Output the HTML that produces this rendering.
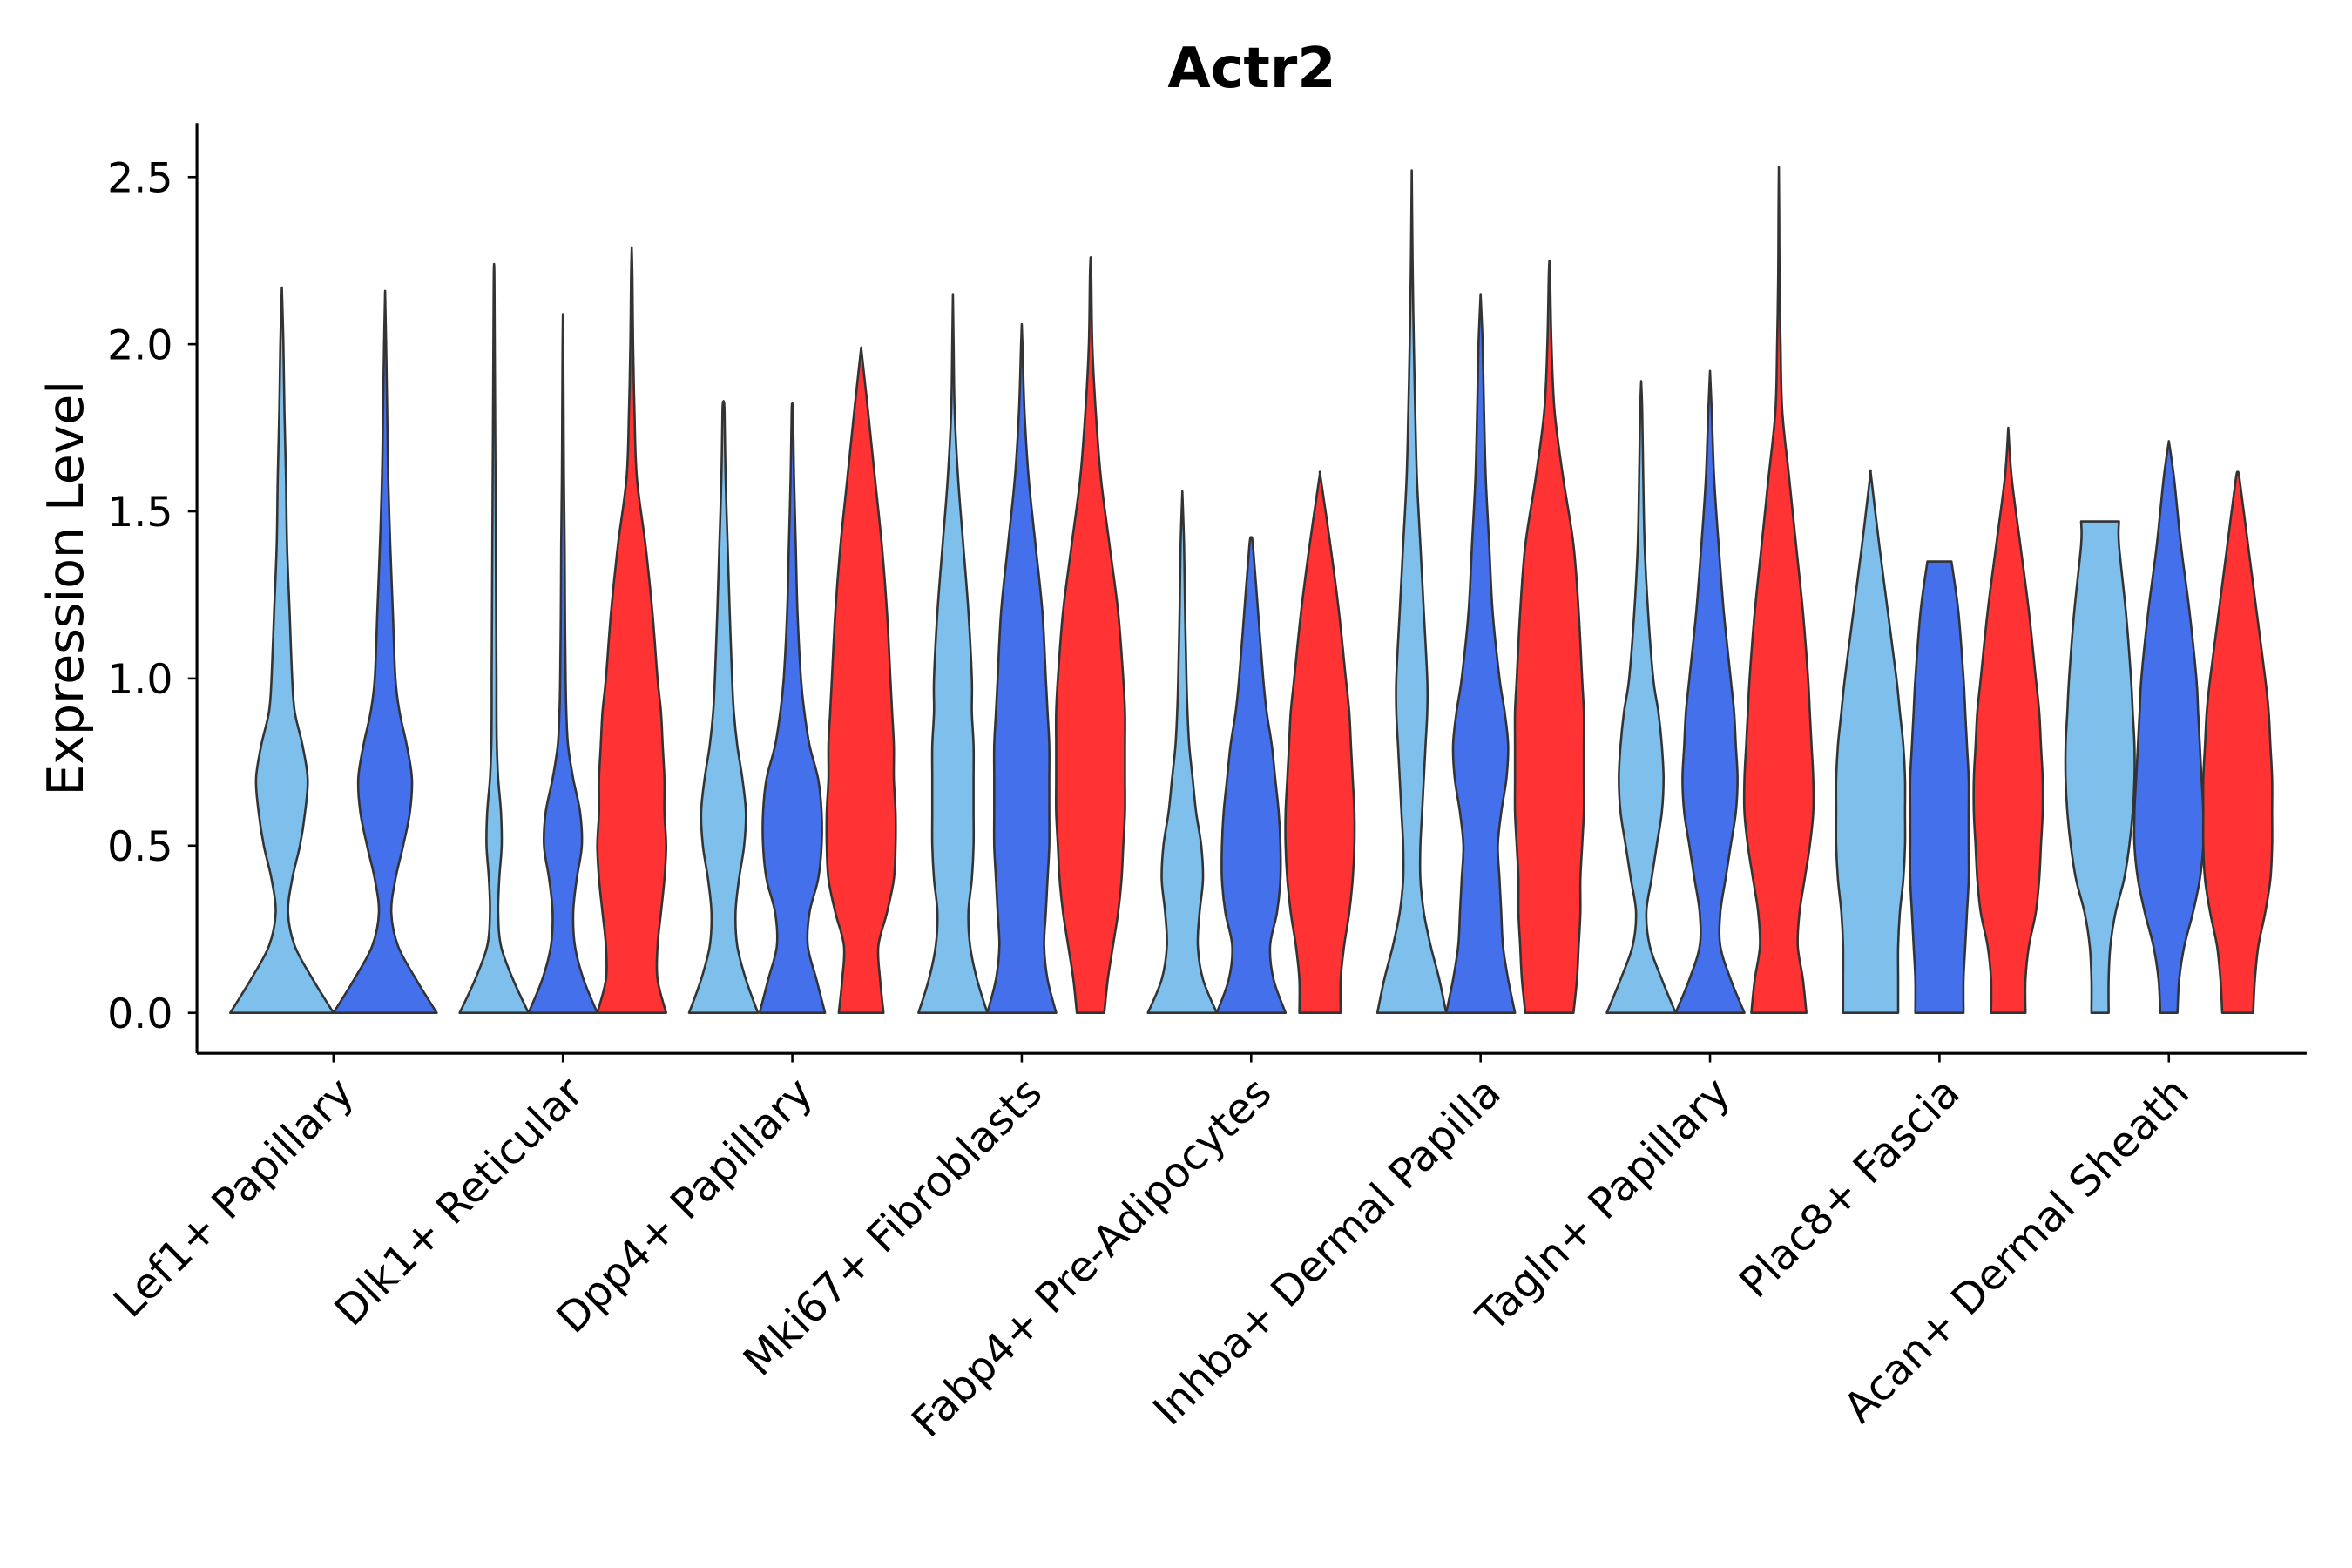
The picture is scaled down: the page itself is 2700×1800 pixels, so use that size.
<!DOCTYPE html>
<html><head><meta charset="utf-8"><style>html,body{margin:0;padding:0;background:#fff}svg{display:block}</style></head>
<body>
<svg id="chart" width="2700" height="1800" viewBox="0 0 1567 1045" xmlns="http://www.w3.org/2000/svg" font-family="'DejaVu Sans', 'Liberation Sans', sans-serif">
<text x="834" y="58" text-anchor="middle" font-size="37" font-weight="bold">Actr2</text>
<g id="plot"></g>
</svg>
<script>
const categories = ["Lef1+ Papillary","Dlk1+ Reticular","Dpp4+ Papillary","Mki67+ Fibroblasts","Fabp4+ Pre-Adipocytes","Inhba+ Dermal Papilla","Tagln+ Papillary","Plac8+ Fascia","Acan+ Dermal Sheath"];
const yTicks = [0.0,0.5,1.0,1.5,2.0,2.5];
const levels = [0,0.1,0.2,0.3,0.4,0.5,0.6,0.7,0.8,0.9,1.0,1.2,1.4,1.6,1.8,2.0,2.2,2.4];
const groupSeries = [["light","dark"],["light","dark","red"],["light","dark","red"],["light","dark","red"],["light","dark","red"],["light","dark","red"],["light","dark","red"],["light","dark","red"],["light","dark","red"]];
const maxValues = [[2.17,2.16],[2.24,2.09,2.29],[1.83,1.82,1.99],[2.15,2.06,2.26],[1.56,1.42,1.61],[2.52,2.15,2.25],[1.89,1.92,2.53],[1.62,1.35,1.75],[1.47,1.71,1.61]];
const topWidths = [[0,0],[0,0,0],[0,0,0],[0,0,0],[0,0,0],[0,0,0],[0,0,0],[0,0.35,0],[0.55,0,0]];
const densities = [
 [[1,.6,.25,.12,.2,.35,.45,.5,.4,.25,.2,.15,.1,.08,.05,.03,.01,0],
  [1,.6,.25,.12,.2,.35,.48,.52,.42,.28,.2,.15,.1,.06,.04,.02,0,0]],
 [[1,.55,.2,.12,.15,.22,.2,.12,.08,.07,.07,.06,.05,.04,.03,.02,.01,0],
  [1,.6,.35,.3,.4,.55,.5,.3,.15,.1,.08,.06,.05,.03,.02,.01,0,0],
  [1,.75,.75,.85,.95,1,.95,.95,.9,.85,.75,.6,.4,.15,.08,.04,.02,0]],
 [[1,.65,.4,.35,.45,.6,.65,.55,.4,.3,.25,.18,.12,.06,.03,0],
  [.95,.7,.45,.5,.75,.85,.85,.75,.5,.35,.25,.15,.1,.05,.02,0],
  [.65,.55,.5,.75,.95,1,1,.95,.95,.9,.85,.75,.6,.4,.2,.05,0]],
 [[1,.7,.5,.45,.55,.6,.6,.6,.6,.55,.55,.45,.3,.15,.05,.02,0],
  [1,.75,.65,.7,.75,.8,.8,.8,.8,.75,.7,.6,.4,.2,.08,.02,0],
  [.4,.5,.65,.8,.9,.95,1,1,1,1,.95,.8,.55,.3,.15,.05,.02,0]],
 [[1,.6,.45,.5,.6,.55,.4,.3,.2,.15,.12,.08,.05,0],
  [1,.65,.55,.75,.85,.85,.8,.7,.6,.45,.35,.2,.05,0],
  [.6,.6,.7,.85,.95,1,1,.95,.9,.85,.75,.55,.3,.02]],
 [[1,.8,.55,.35,.25,.25,.3,.35,.4,.45,.45,.35,.25,.15,.1,.06,.03,.01],
  [1,.8,.65,.6,.55,.5,.6,.75,.8,.7,.55,.35,.25,.15,.1,.06,.02,0],
  [.7,.8,.85,.9,.9,.95,1,1,1,1,.95,.85,.7,.4,.15,.06,.02,0]],
 [[1,.6,.25,.15,.3,.45,.6,.65,.6,.5,.35,.2,.1,.06,.03,0],
  [1,.6,.3,.3,.45,.6,.75,.8,.75,.7,.6,.4,.25,.12,.05,.01,0],
  [.8,.7,.55,.6,.75,.9,1,1,.95,.9,.85,.7,.5,.3,.1,.05,.02,.01]],
 [[.8,.8,.8,.85,.95,1,1,1,.95,.85,.75,.5,.25,.02],
  [.7,.7,.75,.8,.85,.85,.85,.85,.8,.75,.7,.55,.35],
  [.5,.5,.6,.8,.9,.95,1,1,.95,.9,.8,.6,.35,.1,.02]],
 [[.25,.25,.3,.45,.7,.85,.95,1,1,.95,.9,.75,.55],
  [.25,.3,.45,.7,.9,1,1,.95,.9,.85,.8,.6,.35,.15,.03],
  [.45,.5,.6,.8,.95,1,1,1,.95,.9,.8,.55,.3,.05]]
];
const colors = {light:"#7FBFEC", dark:"#4470EC", red:"#FF3333"};

const NS = "http://www.w3.org/2000/svg";
const plot = document.getElementById("plot");
const X0 = 131, X1 = 1537, Y0 = 702, YTOP = 82;
const xCenter = i => 222 + i * 152.9;
const yScale = v => 675 - v * 222.8;
const bandW = 152.9 * 0.9;

function mk(tag, attrs){const e=document.createElementNS(NS,tag);for(const k in attrs)e.setAttribute(k,attrs[k]);plot.appendChild(e);return e;}
function smooth(p){
  let s="";
  for(let i=0;i<p.length-1;i++){
    const p0=p[Math.max(0,i-1)],p1=p[i],p2=p[i+1],p3=p[Math.min(p.length-1,i+2)];
    const c1=[p1[0]+(p2[0]-p0[0])/6,p1[1]+(p2[1]-p0[1])/6];
    const c2=[p2[0]-(p3[0]-p1[0])/6,p2[1]-(p3[1]-p1[1])/6];
    s+=" C"+c1.map(v=>v.toFixed(2)).join(",")+" "+c2.map(v=>v.toFixed(2)).join(",")+" "+p2.map(v=>v.toFixed(2)).join(",");
  }
  return s;
}

categories.forEach((cat, i) => {
  const series = groupSeries[i];
  const n = series.length;
  const slot = bandW / n;
  const halfW = slot / 2;
  series.forEach((s, j) => {
    const cx = xCenter(i) - bandW/2 + slot*(j+0.5);
    const mx = maxValues[i][j];
    const d = densities[i][j];
    const pts = [];
    for (let k=0;k<levels.length;k++){
      if (levels[k] >= mx) break;
      pts.push([levels[k], d[k] !== undefined ? d[k] : 0]);
    }
    pts.push([mx, topWidths[i][j]]);
    const right = pts.map(p => [cx + p[1]*halfW, yScale(p[0])]);
    const left = pts.slice().reverse().map(p => [cx - p[1]*halfW, yScale(p[0])]);
    let dstr = "M"+right[0][0].toFixed(2)+","+right[0][1].toFixed(2)+smooth(right)+
      " L"+left[0][0].toFixed(2)+","+left[0][1].toFixed(2)+smooth(left)+" Z";
    const path = mk("path", {d: dstr, fill: colors[s], stroke: "#333", "stroke-width": 1.5, "stroke-linejoin":"round"});
    
    
  });
  const t = mk("line", {x1:xCenter(i), x2:xCenter(i), y1:Y0, y2:Y0+6, stroke:"#000", "stroke-width":1.5});
  
  
  const lx = xCenter(i) + 15, ly = Y0 + 28;
  const lab = mk("text", {x:lx, y:ly, "text-anchor":"end", "font-size":28, transform:`rotate(-45 ${lx} ${ly})`});
  lab.textContent = cat;
  
  
});

yTicks.forEach(v => {
  const y = yScale(v);
  const t = mk("line", {x1:X0-6, x2:X0, y1:y, y2:y, stroke:"#000", "stroke-width":1.5});
  
  
  const lab = mk("text", {x:X0-16, y:y+10, "text-anchor":"end", "font-size":27.5});
  lab.textContent = v.toFixed(1);
  
  
});

const ya = mk("line", {x1:X0, x2:X0, y1:YTOP, y2:Y0, stroke:"#000", "stroke-width":1.8});


const xa = mk("line", {x1:X0, x2:X1, y1:Y0, y2:Y0, stroke:"#000", "stroke-width":1.8});


const yt = mk("text", {x:55, y:392, "text-anchor":"middle", "font-size":33, transform:"rotate(-90 55 392)"});
yt.textContent = "Expression Level";


</script>
</body></html>
